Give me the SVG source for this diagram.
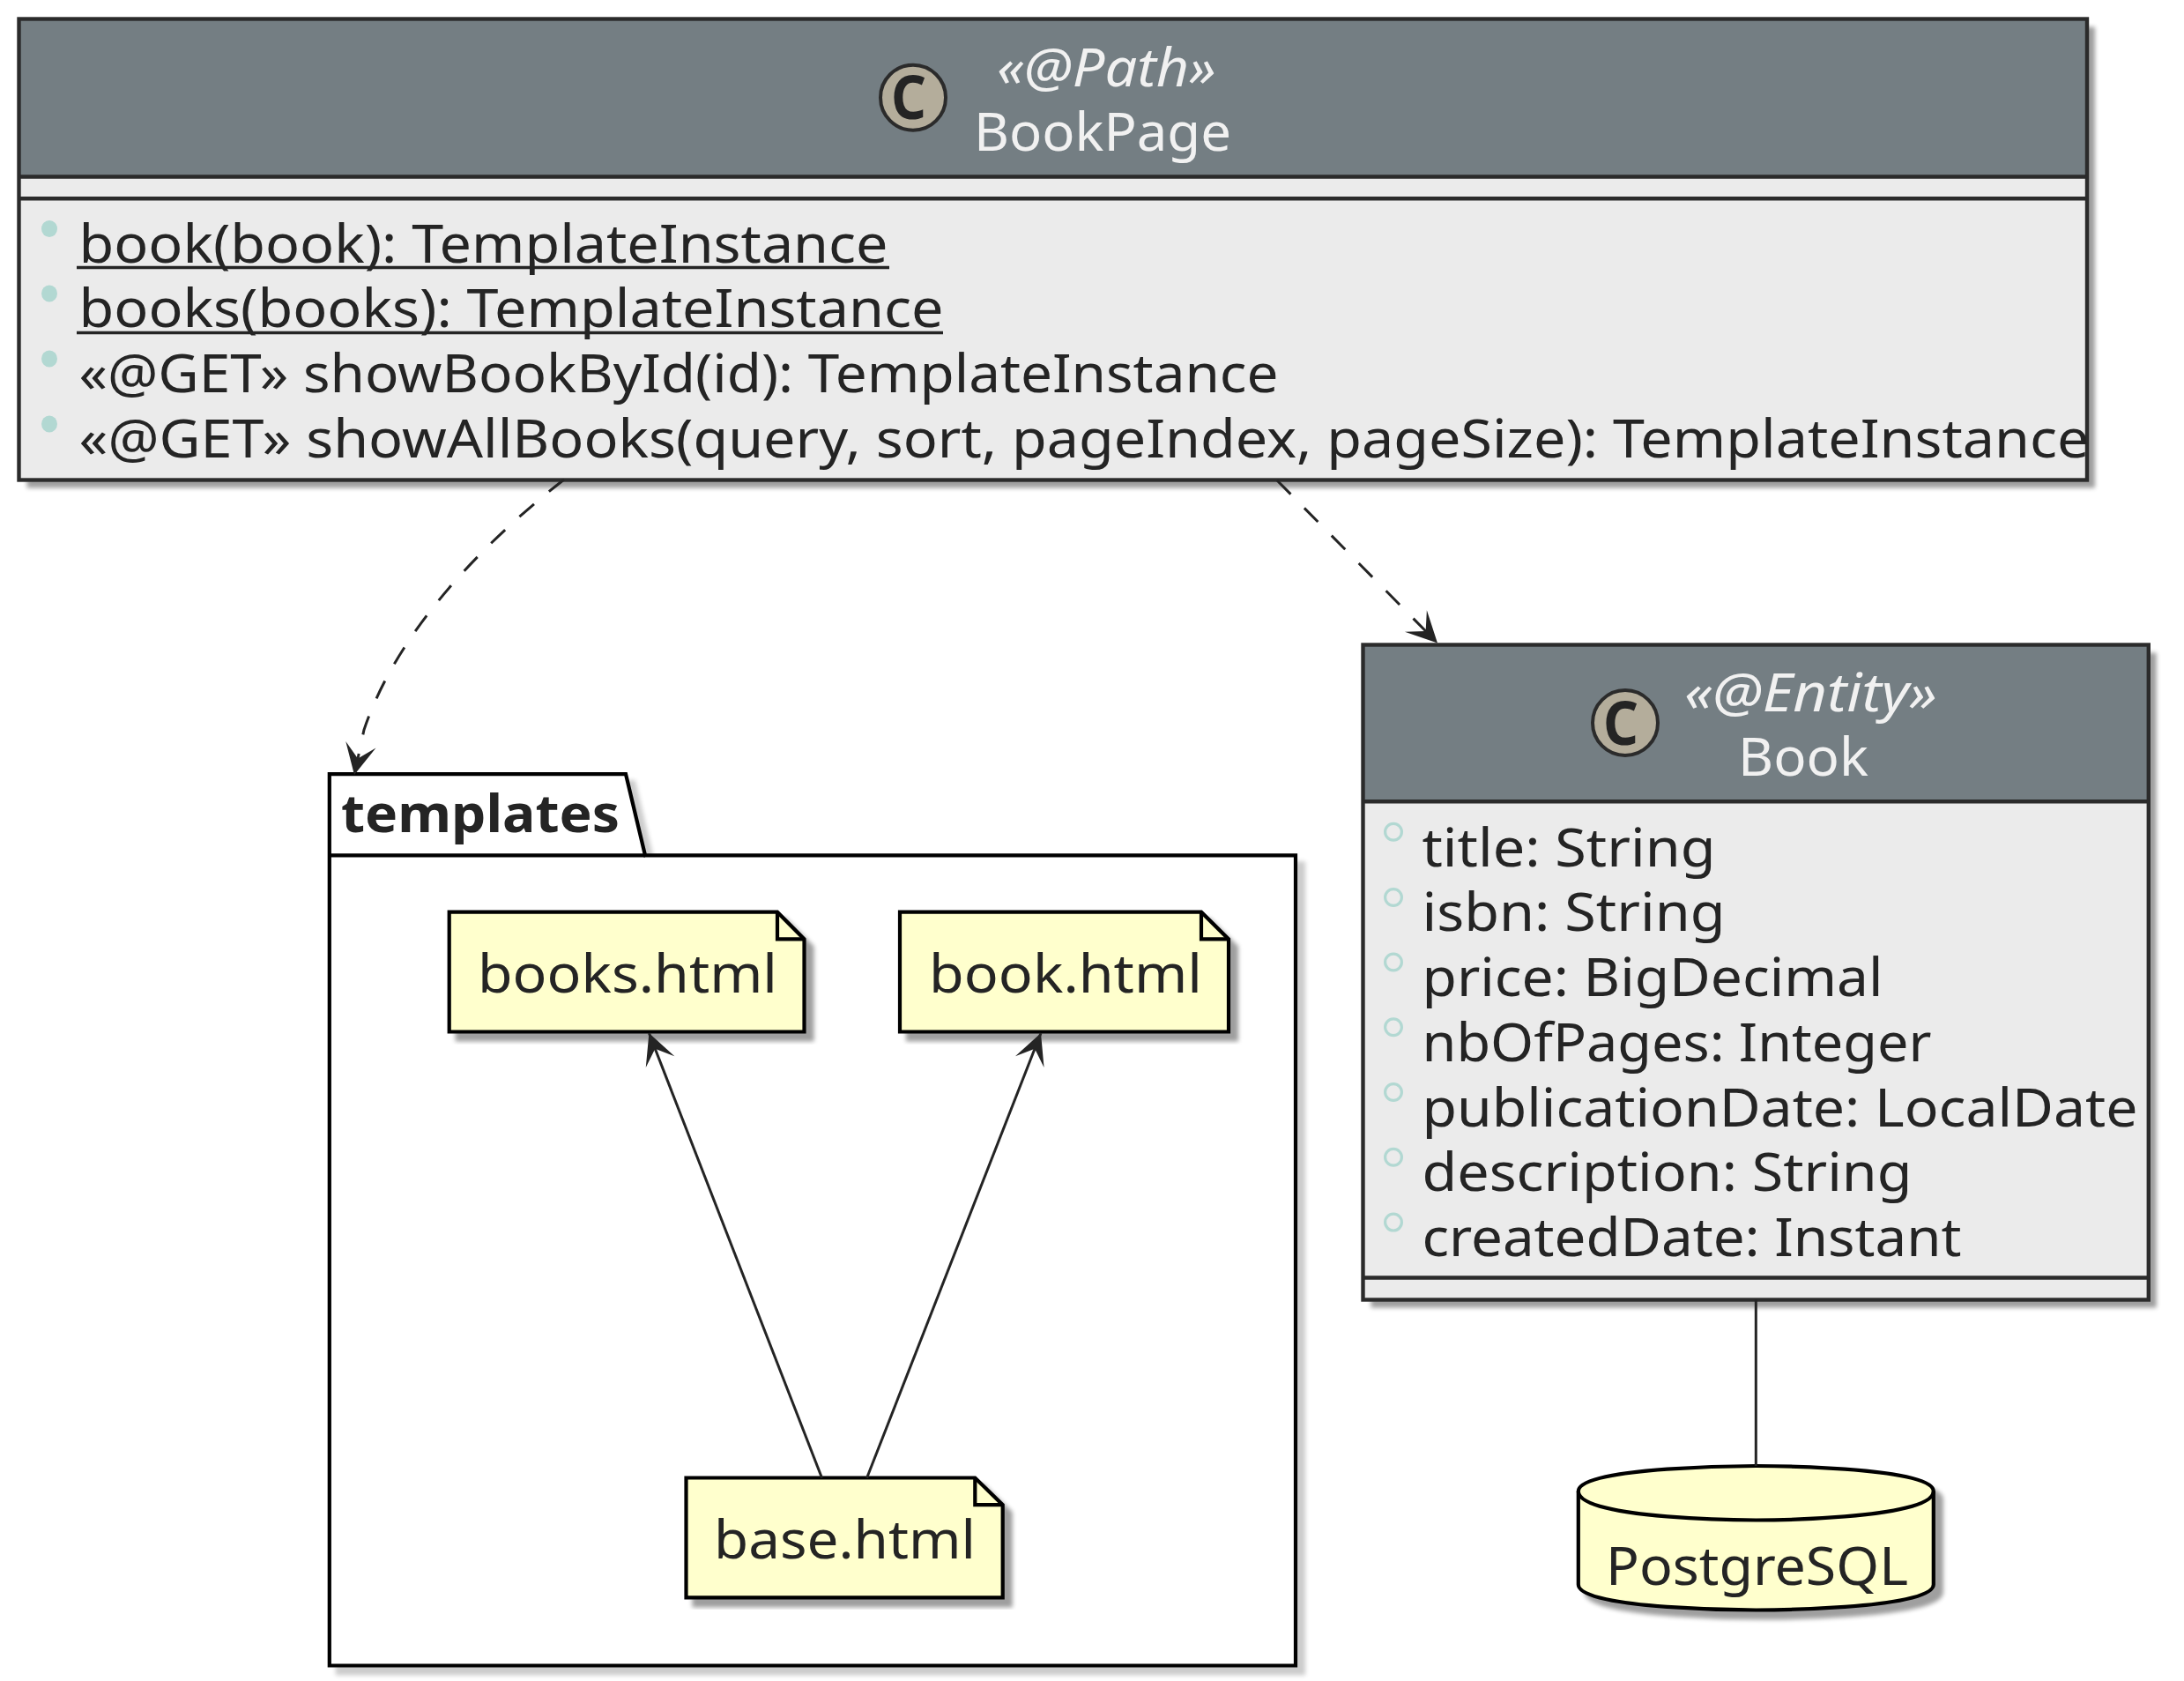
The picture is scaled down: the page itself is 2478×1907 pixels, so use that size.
<svg xmlns="http://www.w3.org/2000/svg" width="2478" height="1907" viewBox="0 0 2478 1907">
<style>
text{font-family:"Noto Sans","Open Sans","DejaVu Sans",sans-serif;font-size:60px;fill:#242424}
.hd{fill:#f1f1f1}
.st{font-style:italic}
.ic{font-weight:bold;font-size:68px}
.bd{font-weight:bold}
.body{fill:#ebebeb;stroke:none}
.head{fill:#747e83;stroke:none}
.box{fill:none;stroke:#2b2b2b;stroke-width:4.4}
.div{stroke:#2b2b2b;stroke-width:4.4}
.badge{fill:#b4ad9b;stroke:#2b2b2b;stroke-width:4}
.dot{fill:#b2d8d2;stroke:none}
.ring{fill:none;stroke:#b2d8d2;stroke-width:3.2}
.ul{stroke:#242424;stroke-width:3.6}
.note{fill:#ffffcd;stroke:#000;stroke-width:4.2}
.fold{fill:none;stroke:#000;stroke-width:4.2}
.pkg{fill:#fff;stroke:#000;stroke-width:4.2}
.cn{fill:none;stroke:#242424;stroke-width:3}
.dash{stroke-dasharray:22 22}
</style>
<defs>
<filter id="sh" x="-5%" y="-5%" width="115%" height="115%">
<feGaussianBlur in="SourceAlpha" stdDeviation="2.5"/><feOffset dx="9" dy="9"/>
<feComponentTransfer><feFuncA type="linear" slope="0.38"/></feComponentTransfer>
<feMerge><feMergeNode/><feMergeNode in="SourceGraphic"/></feMerge>
</filter>
<filter id="shl" x="-5%" y="-5%" width="115%" height="115%">
<feGaussianBlur in="SourceAlpha" stdDeviation="2.5"/><feOffset dx="9" dy="9"/>
<feComponentTransfer><feFuncA type="linear" slope="0.2"/></feComponentTransfer>
<feMerge><feMergeNode/><feMergeNode in="SourceGraphic"/></feMerge>
</filter>
<marker id="arr" markerUnits="userSpaceOnUse" markerWidth="37" markerHeight="37" refX="35" refY="17.5" orient="auto" overflow="visible">
<path d="M0,0L35,17.5L0,35L16,17.5Z" fill="#242424"/>
</marker>
</defs>

<g id="templates">
<path class="pkg" filter="url(#shl)" d="M373.8,878.2L710,878.2L732,970.3L1470,970.3L1470,1889.5L373.8,1889.5Z"/>
<path class="fold" d="M373.8,970.3L732,970.3"/>
<text class="bd" x="387" y="944" textLength="316" lengthAdjust="spacingAndGlyphs">templates</text>
</g>

<g id="bookspage">
<path class="note" filter="url(#sh)" d="M509.7,1034.7L882,1034.7L912.5,1065.4L912.5,1170.5L509.7,1170.5Z"/>
<path class="fold" d="M882,1034.7L882,1065.4L912.5,1065.4"/>
<text x="542" y="1126" textLength="340" lengthAdjust="spacingAndGlyphs">books.html</text>
</g>
<g id="bookhtml">
<path class="note" filter="url(#sh)" d="M1021,1034.7L1363,1034.7L1394,1065.4L1394,1170.5L1021,1170.5Z"/>
<path class="fold" d="M1363,1034.7L1363,1065.4L1394,1065.4"/>
<text x="1054" y="1126" textLength="310" lengthAdjust="spacingAndGlyphs">book.html</text>
</g>
<g id="basehtml">
<path class="note" filter="url(#sh)" d="M778.5,1676.5L1106.3,1676.5L1137.7,1707.2L1137.7,1812.3L778.5,1812.3Z"/>
<path class="fold" d="M1106.3,1676.5L1106.3,1707.2L1137.7,1707.2"/>
<text x="810" y="1768" textLength="297" lengthAdjust="spacingAndGlyphs">base.html</text>
</g>

<g id="BookPage">
<rect class="body" filter="url(#sh)" x="21.5" y="21.5" width="2346.5" height="523"/>
<rect class="head" x="21.5" y="21.5" width="2346.5" height="179"/>
<path class="div" d="M21.5,200.5H2368M21.5,225.2H2368"/>
<rect class="box" x="21.5" y="21.5" width="2346.5" height="523"/>
<circle class="badge" cx="1036" cy="110.7" r="37"/>
<text class="ic" x="1011" y="135" textLength="40" lengthAdjust="spacingAndGlyphs">C</text>
<text class="hd st" x="1131" y="97.7" textLength="249" lengthAdjust="spacingAndGlyphs">«@Path»</text>
<text class="hd" x="1105" y="171" textLength="292" lengthAdjust="spacingAndGlyphs">BookPage</text>
<ellipse class="dot" cx="56" cy="259.5" rx="9" ry="9.5"/>
<text x="89.5" y="297.7" textLength="918" lengthAdjust="spacingAndGlyphs">book(book): TemplateInstance</text>
<line class="ul" x1="87" y1="303.5" x2="1009" y2="303.5"/>
<ellipse class="dot" cx="56" cy="333" rx="9" ry="9.5"/>
<text x="89.5" y="371" textLength="981" lengthAdjust="spacingAndGlyphs">books(books): TemplateInstance</text>
<line class="ul" x1="87" y1="377.5" x2="1070" y2="377.5"/>
<ellipse class="dot" cx="56" cy="407" rx="9" ry="9.5"/>
<text x="89.5" y="445" textLength="1361" lengthAdjust="spacingAndGlyphs">«@GET» showBookById(id): TemplateInstance</text>
<ellipse class="dot" cx="56" cy="481" rx="9" ry="9.5"/>
<text x="89.5" y="518.6" textLength="2281" lengthAdjust="spacingAndGlyphs">«@GET» showAllBooks(query, sort, pageIndex, pageSize): TemplateInstance</text>
</g>

<g id="Book">
<rect class="body" filter="url(#sh)" x="1546.5" y="731.5" width="891.3" height="743"/>
<rect class="head" x="1546.5" y="731.5" width="891.3" height="178"/>
<path class="div" d="M1546.5,909.3H2437.8M1546.5,1449.5H2437.8"/>
<rect class="box" x="1546.5" y="731.5" width="891.3" height="743"/>
<circle class="badge" cx="1844" cy="820" r="37"/>
<text class="ic" x="1819" y="845" textLength="40" lengthAdjust="spacingAndGlyphs">C</text>
<text class="hd st" x="1911" y="806.7" textLength="287" lengthAdjust="spacingAndGlyphs">«@Entity»</text>
<text class="hd" x="1972" y="880" textLength="148" lengthAdjust="spacingAndGlyphs">Book</text>
<circle class="ring" cx="1581" cy="943.7" r="9.4"/>
<text x="1613.5" y="982.5" textLength="333" lengthAdjust="spacingAndGlyphs">title: String</text>
<circle class="ring" cx="1581" cy="1018" r="9.4"/>
<text x="1613.5" y="1056.3" textLength="344" lengthAdjust="spacingAndGlyphs">isbn: String</text>
<circle class="ring" cx="1581" cy="1091.5" r="9.4"/>
<text x="1613.5" y="1130" textLength="523" lengthAdjust="spacingAndGlyphs">price: BigDecimal</text>
<circle class="ring" cx="1581" cy="1165.3" r="9.4"/>
<text x="1613.5" y="1203.8" textLength="578" lengthAdjust="spacingAndGlyphs">nbOfPages: Integer</text>
<circle class="ring" cx="1581" cy="1239" r="9.4"/>
<text x="1613.5" y="1277.6" textLength="812" lengthAdjust="spacingAndGlyphs">publicationDate: LocalDate</text>
<circle class="ring" cx="1581" cy="1312.8" r="9.4"/>
<text x="1613.5" y="1351.4" textLength="556" lengthAdjust="spacingAndGlyphs">description: String</text>
<circle class="ring" cx="1581" cy="1386.6" r="9.4"/>
<text x="1613.5" y="1425.2" textLength="612" lengthAdjust="spacingAndGlyphs">createdDate: Instant</text>
</g>

<g id="PostgreSQL">
<path class="note" filter="url(#sh)" d="M1790.8,1691.7C1790.8,1663 1992.3,1663 1992.3,1663C1992.3,1663 2193.8,1663 2193.8,1691.7L2193.8,1797.5C2193.8,1826.5 1992.3,1826.5 1992.3,1826.5C1992.3,1826.5 1790.8,1826.5 1790.8,1797.5Z"/>
<path class="fold" d="M1790.8,1691.7C1790.8,1724.5 1992.3,1724.5 1992.3,1724.5C1992.3,1724.5 2193.8,1724.5 2193.8,1691.7"/>
<text x="1822" y="1797.7" textLength="343" lengthAdjust="spacingAndGlyphs">PostgreSQL</text>
</g>

<g id="connectors">
<path class="cn dash" marker-end="url(#arr)" d="M640,544C562,605 453,708 413,828L402,879"/>
<path class="cn dash" marker-end="url(#arr)" d="M1449,545L1631,729.5"/>
<path class="cn" marker-end="url(#arr)" d="M932.5,1676.5L736.4,1172"/>
<path class="cn" marker-end="url(#arr)" d="M983.6,1676.5L1181,1172"/>
<path class="cn" d="M1992.3,1474.5V1663"/>
</g>
</svg>
